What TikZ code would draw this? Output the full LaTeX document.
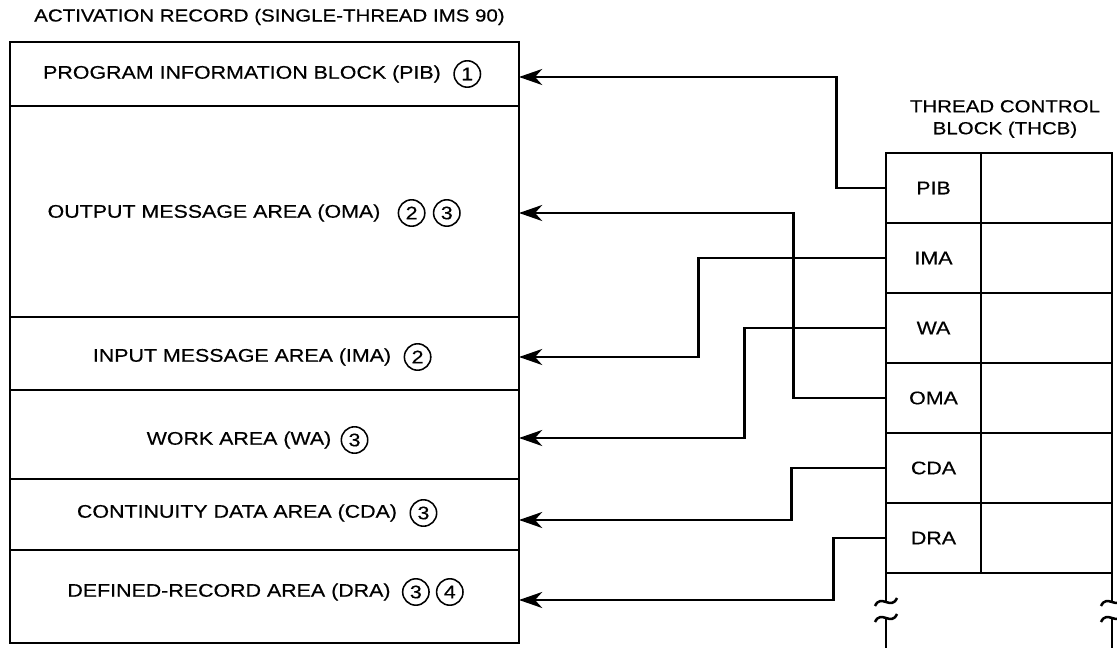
\documentclass[tikz,border=0pt]{standalone}
\usepackage{fontspec}
\setmainfont{Liberation Sans}[FakeStretch=1.17, FakeBold=0.4]
\usetikzlibrary{arrows.meta}

\tikzset{
  lbl/.style={font=\fontsize{13}{15.6}\selectfont, inner sep=0pt},
  ttl/.style={font=\fontsize{12.45}{15.6}\selectfont, inner sep=0pt},
  num/.style={draw, circle, line width=1.1pt, minimum size=0.66cm, inner sep=0pt,
    font=\fontsize{13}{15.6}\selectfont},
  cell/.style={draw, minimum width=2.375cm, minimum height=1.75cm,
    font=\fontsize{13}{15.6}\selectfont},
  blank/.style={draw, minimum width=3.275cm, minimum height=1.75cm},
  link/.style={-{Stealth[length=5.8mm, width=4mm, inset=1.8mm]}}
}

\begin{document}
\begin{tikzpicture}[x=0.025cm, y=-0.025cm, line width=1.8pt, line join=miter]
    \useasboundingbox (0,0) rectangle (1117,648);

    % activation record
    \node[ttl, anchor=west] (artitle) at (33,17) {ACTIVATION RECORD (SINGLE-THREAD IMS 90)};
    \draw (10,42) rectangle (519,643);
    \foreach \y in {106,317,390,479,550}
        \draw (10,\y) -- (519,\y);

    \node[lbl] (tPIB) at (242,74) {PROGRAM INFORMATION BLOCK (PIB)};
    \node[num, anchor=west] (nPIB) at ([xshift=0.28cm]tPIB.east) {1};

    \node[lbl] (tOMA) at (214,213) {OUTPUT MESSAGE AREA (OMA)};
    \node[num, anchor=west] (nOMA) at ([xshift=0.4cm]tOMA.east) {2};
    \node[num, anchor=west] (mOMA) at ([xshift=0.18cm]nOMA.east) {3};

    \node[lbl] (tIMA) at (242,357) {INPUT MESSAGE AREA (IMA)};
    \node[num, anchor=west] (nIMA) at ([xshift=0.28cm]tIMA.east) {2};

    \node[lbl] (tWA) at (239,440) {WORK AREA (WA)};
    \node[num, anchor=west] (nWA) at ([xshift=0.2cm]tWA.east) {3};

    \node[lbl] (tCDA) at (237,513) {CONTINUITY DATA AREA (CDA)};
    \node[num, anchor=west] (nCDA) at ([xshift=0.28cm]tCDA.east) {3};

    \node[lbl] (tDRA) at (229,592) {DEFINED-RECORD AREA (DRA)};
    \node[num, anchor=west] (nDRA) at ([xshift=0.25cm]tDRA.east) {3};
    \node[num, anchor=west] (mDRA) at ([xshift=0.15cm]nDRA.east) {4};

    % thread control block
    \node[ttl, align=center] (thtitle) at (1005,119) {THREAD CONTROL\\BLOCK (THCB)};
    \foreach \lab [count=\i] in {PIB,IMA,WA,OMA,CDA,DRA} {
        \node[cell] (c\lab) at (933.5,118+70*\i) {\lab};
        \node[blank] (b\lab) at (1046.5,118+70*\i) {};
    }
    \foreach \x in {886,1112} {
        \draw (\x,573) -- (\x,602);
        \draw (\x-11,606) .. controls (\x-5,593) and (\x+5,611) .. (\x+11,598);
        \draw (\x-11,622) .. controls (\x-5,609) and (\x+5,627) .. (\x+11,614);
        \draw (\x,618) -- (\x,648);
    }

    % pointers
    \coordinate (aPIB) at (519,77);
    \coordinate (aOMA) at (519,213);
    \coordinate (aIMA) at (519,357);
    \coordinate (aWA) at (519,438);
    \coordinate (aCDA) at (519,520);
    \coordinate (aDRA) at (519,600);

    \draw[link] (cPIB.west) -- ++(-48,0) |- (aPIB);
    \draw[link] (cIMA.west) -- ++(-186,0) |- (aIMA);
    \draw[link] (cWA.west) -- ++(-140,0) |- (aWA);
    \draw[link] (cOMA.west) -- ++(-91,0) |- (aOMA);
    \draw[link] (cCDA.west) -- ++(-93,0) |- (aCDA);
    \draw[link] (cDRA.west) -- ++(-51,0) |- (aDRA);
\end{tikzpicture}
\end{document}
